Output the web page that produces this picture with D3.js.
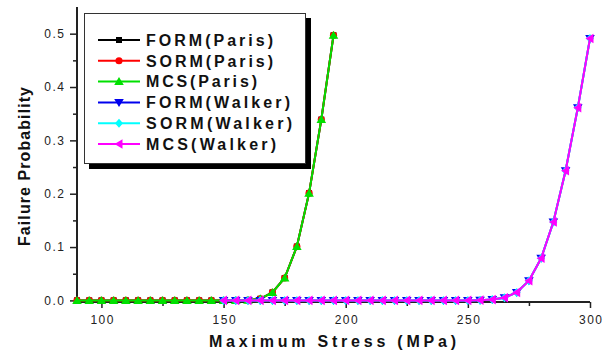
<!DOCTYPE html>
<html>
<head>
<meta charset="utf-8">
<script src="https://cdn.jsdelivr.net/npm/d3@7"></script>
<style>
  html, body { margin: 0; padding: 0; background: #fff; }
  svg { display: block; }
  text { font-family: "Liberation Sans", Arial, sans-serif; }
</style>
</head>
<body>
<svg id="chart" width="613" height="355"></svg>
<script>
// Stress levels (MPa)
const stressParis  = [90, 95, 100, 105, 110, 115, 120, 125, 130, 135, 140, 145, 150, 155, 160, 165, 170, 175, 180, 185, 190, 195];
const stressWalker = [150, 155, 160, 165, 170, 175, 180, 185, 190, 195, 200, 205, 210, 215, 220, 225, 230, 235, 240, 245, 250, 255, 260, 265, 270, 275, 280, 285, 290, 295, 300];

// Failure probabilities, Paris crack growth law
const formParis = [0, 0, 0, 0, 0, 0, 0, 0, 0, 0, 0, 0, 0, 0, 0.0005, 0.003, 0.015, 0.042, 0.101, 0.201, 0.339, 0.497];
const sormParis = [0, 0, 0, 0, 0, 0, 0, 0, 0, 0, 0, 0, 0, 0, 0.0005, 0.003, 0.015, 0.042, 0.101, 0.201, 0.339, 0.497];
const mcsParis  = [0, 0, 0, 0, 0, 0, 0, 0, 0, 0, 0, 0, 0, 0, 0.0005, 0.003, 0.015, 0.042, 0.101, 0.201, 0.339, 0.497];

// Failure probabilities, Walker crack growth law
const formWalker = [0, 0, 0, 0, 0, 0, 0, 0, 0, 0, 0, 0, 0, 0, 0, 0, 0, 0, 0, 0, 0, 0.0005, 0.0015, 0.005, 0.015, 0.037, 0.079, 0.147, 0.243, 0.361, 0.491];
const sormWalker = [0, 0, 0, 0, 0, 0, 0, 0, 0, 0, 0, 0, 0, 0, 0, 0, 0, 0, 0, 0, 0, 0.0005, 0.0015, 0.005, 0.015, 0.037, 0.079, 0.147, 0.243, 0.361, 0.491];
const mcsWalker  = [0, 0, 0, 0, 0, 0, 0, 0, 0, 0, 0, 0, 0, 0, 0, 0, 0, 0, 0, 0, 0, 0.0005, 0.0015, 0.005, 0.015, 0.037, 0.079, 0.147, 0.243, 0.361, 0.491];

const seriesNames = ["FORM(Paris)", "SORM(Paris)", "MCS(Paris)", "FORM(Walker)", "SORM(Walker)", "MCS(Walker)"];

const xTicks = [100, 150, 200, 250, 300];
const xMinorTicks = [125, 175, 225, 275];
const yTicks = [0.0, 0.1, 0.2, 0.3, 0.4, 0.5];
const yMinorTicks = [0.05, 0.15, 0.25, 0.35, 0.45];

const series = [
  { name: seriesNames[0], xs: stressParis,  ys: formParis,  color: "#000000", symbol: "square" },
  { name: seriesNames[1], xs: stressParis,  ys: sormParis,  color: "#ff0000", symbol: "circle" },
  { name: seriesNames[2], xs: stressParis,  ys: mcsParis,   color: "#00e000", symbol: "triUp" },
  { name: seriesNames[3], xs: stressWalker, ys: formWalker, color: "#0000ee", symbol: "triDown" },
  { name: seriesNames[4], xs: stressWalker, ys: sormWalker, color: "#00ffff", symbol: "diamond" },
  { name: seriesNames[5], xs: stressWalker, ys: mcsWalker,  color: "#ff00ff", symbol: "triLeft" }
];

const svg = d3.select("#chart");
const x = d3.scaleLinear().domain([90, 300]).range([77, 590]);
const y = d3.scaleLinear().domain([-0.003, 0.55]).range([302, 7]);

// Marker shapes
function markerPath(sym) {
  switch (sym) {
    case "square":  return "M-3,-3H3V3H-3Z";
    case "circle":  return d3.symbol(d3.symbolCircle, 40)();
    case "triUp":   return "M0,-4.5L4.8,3.5L-4.8,3.5Z";
    case "triDown": return "M0,4.5L4.8,-3.5L-4.8,-3.5Z";
    case "diamond": return "M0,-4.5L4,0L0,4.5L-4,0Z";
    case "triLeft": return "M-4.5,0L3.5,-4.8L3.5,4.8Z";
  }
}

// Axes
const axisColor = "#222";
const yAxis = svg.append("g").attr("transform", `translate(${x.range()[0]},0)`)
  .call(d3.axisLeft(y).tickValues(yTicks).tickSize(7).tickPadding(6).tickFormat(d3.format(".1f")));
svg.append("g").attr("transform", `translate(${x.range()[0]},0)`)
  .call(d3.axisLeft(y).tickValues(yMinorTicks).tickSize(4).tickFormat(""))
  .call(g => g.select(".domain").remove());
const xAxis = svg.append("g").attr("transform", `translate(0,${y.range()[0]})`)
  .call(d3.axisBottom(x).tickValues(xTicks).tickSize(6).tickPadding(7).tickFormat(d3.format("d")));
svg.append("g").attr("transform", `translate(0,${y.range()[0]})`)
  .call(d3.axisBottom(x).tickValues(xMinorTicks).tickSize(4).tickFormat(""))
  .call(g => g.select(".domain").remove());

svg.selectAll(".domain").attr("stroke", axisColor).attr("stroke-width", 2)
  .attr("d", function () { return d3.select(this).attr("d"); });
svg.selectAll(".tick line").attr("stroke", axisColor).attr("stroke-width", 1.5);
svg.selectAll(".tick text").attr("fill", "#222").attr("font-size", 12)
  .attr("font-family", "'Liberation Sans', Arial, sans-serif").style("letter-spacing", "1.5px");
yAxis.select(".domain").attr("d", `M0,${y.range()[1]}V${y.range()[0]}`);
xAxis.select(".domain").attr("d", `M${x.range()[0]},0H${x.range()[1]}`);
xAxis.selectAll(".tick text").attr("dx", "0.75px");
yAxis.selectAll(".tick text").attr("dx", "1.5px");

// Series lines and markers
const line = d3.line().x(d => x(d[0])).y(d => y(d[1]));
series.forEach(s => {
  const pts = s.xs.map((v, i) => [v, s.ys[i]]);
  const g = svg.append("g");
  g.append("path").datum(pts).attr("d", line)
    .attr("fill", "none").attr("stroke", s.color).attr("stroke-width", 2);
  g.selectAll("path.m").data(pts).join("path").attr("class", "m")
    .attr("transform", d => `translate(${x(d[0])},${y(d[1])})`)
    .attr("d", markerPath(s.symbol)).attr("fill", s.color);
});

// Axis titles
svg.append("text").attr("x", 332.5).attr("y", 347).attr("text-anchor", "middle")
  .attr("font-size", 16).attr("font-weight", "bold").attr("fill", "#111")
  .attr("textLength", 247).attr("lengthAdjust", "spacing")
  .text("Maximum Stress (MPa)");
svg.append("text").attr("transform", "translate(30,166.5) rotate(-90)").attr("text-anchor", "middle")
  .attr("font-size", 16).attr("font-weight", "bold").attr("fill", "#111")
  .attr("textLength", 159).attr("lengthAdjust", "spacing")
  .text("Failure Probability");

// Legend with drop shadow
const legend = svg.append("g");
legend.append("rect").attr("x", 89).attr("y", 18).attr("width", 222).attr("height", 151).attr("fill", "#000");
legend.append("rect").attr("x", 84.5).attr("y", 13.5).attr("width", 221).attr("height", 150)
  .attr("fill", "#fff").attr("stroke", "#333").attr("stroke-width", 1);
const textWidths = [127, 127, 111, 144, 146, 130];
series.forEach((s, i) => {
  const cy = 40 + i * 20.8;
  legend.append("line").attr("x1", 98).attr("x2", 140).attr("y1", cy).attr("y2", cy)
    .attr("stroke", s.color).attr("stroke-width", 2);
  legend.append("path").attr("transform", `translate(119,${cy})`).attr("d", markerPath(s.symbol)).attr("fill", s.color);
  legend.append("text").attr("x", 146).attr("y", cy + 5.8)
    .attr("font-size", 16).attr("font-weight", "bold").attr("fill", "#111")
    .attr("textLength", textWidths[i]).attr("lengthAdjust", "spacing")
    .text(s.name);
});
</script>
</body>
</html>
